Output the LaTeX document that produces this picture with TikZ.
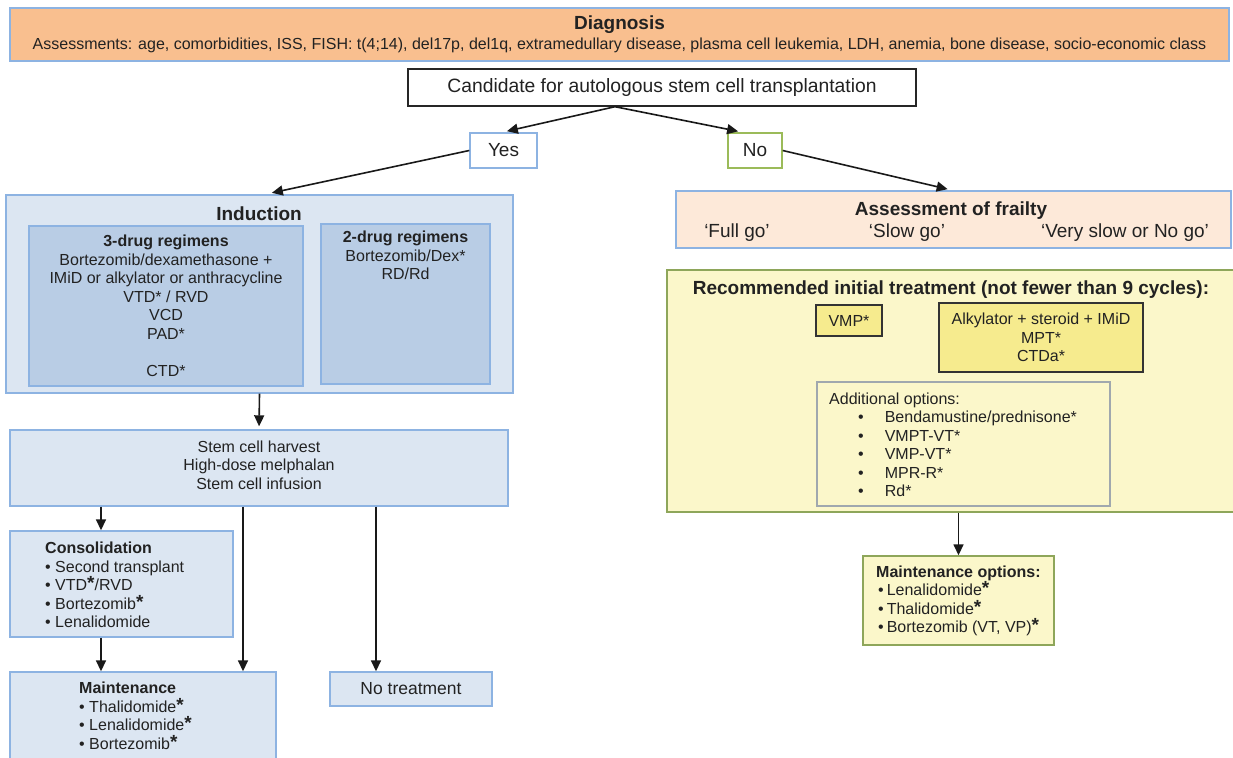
\documentclass[tikz,border=0pt]{standalone}
\usepackage{fontspec}
\setmainfont{Liberation Sans}
\usetikzlibrary{arrows.meta}

\definecolor{txt}{HTML}{222222}
\definecolor{diagfill}{HTML}{F9BF8F}
\definecolor{blueline}{HTML}{8DB3E2}
\definecolor{lightblue}{HTML}{DCE6F2}
\definecolor{midblue}{HTML}{B9CDE5}
\definecolor{peach}{HTML}{FDE9D9}
\definecolor{paleyellow}{HTML}{FBF7CA}
\definecolor{yellowbox}{HTML}{F6EB8E}
\definecolor{oliveline}{HTML}{8EA65A}
\definecolor{greenline}{HTML}{9BBB59}
\definecolor{grayline}{HTML}{A0A8AE}

\newcommand{\fs}[2]{\fontsize{#1}{#2}\selectfont}
\newcommand{\boldast}{\raisebox{1pt}{\fs{19}{19}\bfseries *}}

\tikzset{
  box/.style={draw=blueline, fill=lightblue, line width=1.4pt, inner sep=0pt},
  whitebox/.style={box, fill=white},
  yelbox/.style={draw=oliveline, fill=paleyellow, line width=1.4pt, inner sep=0pt},
  pick/.style={draw=black!80, fill=yellowbox, line width=1.4pt, inner sep=0pt},
  arr/.style={-{Triangle[length=11pt,width=10pt]}, line width=1.6pt, draw=black!90}
}

\begin{document}
\begin{tikzpicture}[x=1pt, y=-1pt, font=\fs{16}{18.5}, text=txt, every node/.style={inner sep=0pt}]
\path[use as bounding box, clip] (0,0) rectangle (1233,757);

\node[box, fill=diagfill, minimum width=1219pt, minimum height=53pt, align=center] (diag) at (619.5,34.5)
  {{\fs{19}{21}\bfseries Diagnosis}\\[2pt]
   Assessments: age, comorbidities, ISS, FISH: t(4;14), del17p, del1q, extramedullary disease, plasma cell leukemia, LDH, anemia, bone disease, socio-economic class};

\node[draw=black!85, fill=white, line width=1.4pt, minimum width=508pt, minimum height=37pt, font=\fs{19.3}{22}] (cand) at (662,87.5)
  {Candidate for autologous stem cell transplantation};

\node[whitebox, minimum width=67pt, minimum height=35pt, font=\fs{19}{21}] (yes) at (503.5,150.5) {Yes};
\node[whitebox, draw=greenline, minimum width=54pt, minimum height=35pt, font=\fs{19}{21}] (no) at (755,150.5) {No};

\draw[arr, shorten >=5pt] ([xshift=-47pt]cand.south) -- ([xshift=-1.5pt]yes.north);
\draw[arr, shorten >=5pt] ([xshift=-47pt]cand.south) -- ([xshift=-12pt]no.north);

% transplant branch
\node[box, minimum width=507pt, minimum height=198pt] (induct) at (259.5,294) {};
\node[font=\fs{19}{21}\bfseries] (inducttitle) at (259,214) {Induction};
\node[box, fill=midblue, minimum width=274pt, minimum height=160pt, align=center] (three) at (166,306)
  {\textbf{3-drug regimens}\\
   Bortezomib/dexamethasone +\\
   IMiD or alkylator or anthracycline\\
   VTD* / RVD\\
   VCD\\
   PAD*\\[18.5pt]
   CTD*};
\node[box, fill=midblue, minimum width=169pt, minimum height=160pt] (two) at (405.5,304) {};
\node[align=center, anchor=north] (twotext) at (405.5,231)
  {\textbf{2-drug regimens}\\ Bortezomib/Dex*\\ RD/Rd};

\draw[arr, shorten >=7pt] (yes.west) -- ([xshift=5.5pt]induct.north);

\node[box, minimum width=498pt, minimum height=76pt] (stem) at (259,468) {};
\node[align=center] (stemtext) at (259,465)
  {Stem cell harvest\\ High-dose melphalan\\ Stem cell infusion};
\draw[arr, shorten >=3pt] (induct.south) -- (stem.north);

\node[box, minimum width=223pt, minimum height=106pt] (consol) at (121.5,584) {};
\node[align=left, anchor=west] (consoltext) at (45,585)
  {\textbf{Consolidation}\\
   \textbullet\ Second transplant\\
   \textbullet\ VTD\boldast/RVD\\
   \textbullet\ Bortezomib\boldast\\
   \textbullet\ Lenalidomide};

\node[box, minimum width=266pt, minimum height=120pt] (maint) at (143,732) {};
\node[align=left, anchor=north west] (mainttext) at (79,682)
  {\textbf{Maintenance}\\
   \textbullet\ Thalidomide\boldast\\
   \textbullet\ Lenalidomide\boldast\\
   \textbullet\ Bortezomib\boldast};

\node[box, minimum width=162pt, minimum height=34pt, font=\fs{17.5}{20}] (notreat) at (411,689) {No treatment};

\draw[arr] ([xshift=-158pt]stem.south) -- ([xshift=-20.5pt]consol.north);
\draw[arr] ([xshift=-16pt]stem.south) -- ([xshift=100pt]maint.north);
\draw[arr] ([xshift=117pt]stem.south) -- ([xshift=-35pt]notreat.north);
\draw[arr] ([xshift=-20.5pt]consol.south) -- ([xshift=-42pt]maint.north);

% non-transplant branch
\node[box, fill=peach, minimum width=555pt, minimum height=57pt] (frail) at (953.5,219.5) {};
\node[font=\fs{19}{21}\bfseries] (frailtitle) at (951,211) {Assessment of frailty};
\node[font=\fs{19}{21}] (fullgo) at (737,233) {‘Full go’};
\node[font=\fs{19}{21}] (slowgo) at (907,233) {‘Slow go’};
\node[font=\fs{19}{21}] (nogo) at (1125,233) {‘Very slow or No go’};

\draw[arr, shorten >=5pt] (no.east) -- ([xshift=-1pt]frail.north);

\node[yelbox, minimum width=578pt, minimum height=242pt] (recom) at (956,391) {};
\node[font=\fs{19}{21}\bfseries] (recomtitle) at (951,290) {Recommended initial treatment (not fewer than 9 cycles):};
\node[pick, minimum width=66pt, minimum height=31pt] (vmp) at (849,320.5) {VMP*};
\node[pick, minimum width=204pt, minimum height=69pt, align=center] (alky) at (1041,337.5)
  {Alkylator + steroid + IMiD\\ MPT*\\ CTDa*};
\node[yelbox, draw=grayline, minimum width=293pt, minimum height=124pt] (addl) at (963.5,444) {};
\node[align=left, anchor=west] (addltext) at (829,445)
  {Additional options:\\
   \hspace*{29pt}\textbullet\hspace*{21pt}Bendamustine/prednisone*\\
   \hspace*{29pt}\textbullet\hspace*{21pt}VMPT-VT*\\
   \hspace*{29pt}\textbullet\hspace*{21pt}VMP-VT*\\
   \hspace*{29pt}\textbullet\hspace*{21pt}MPR-R*\\
   \hspace*{29pt}\textbullet\hspace*{21pt}Rd*};

\node[yelbox, minimum width=191pt, minimum height=89pt] (mopt) at (958.5,600.5) {};
\node[align=left, anchor=west] (mopttext) at (876,601)
  {\textbf{Maintenance options:}\\
   \hspace*{2pt}\textbullet\hspace*{3pt}Lenalidomide\boldast\\
   \hspace*{2pt}\textbullet\hspace*{3pt}Thalidomide\boldast\\
   \hspace*{2pt}\textbullet\hspace*{3pt}Bortezomib (VT, VP)\boldast};

\draw[arr] (mopt.north |- recom.south) -- (mopt.north);
\end{tikzpicture}
\end{document}
